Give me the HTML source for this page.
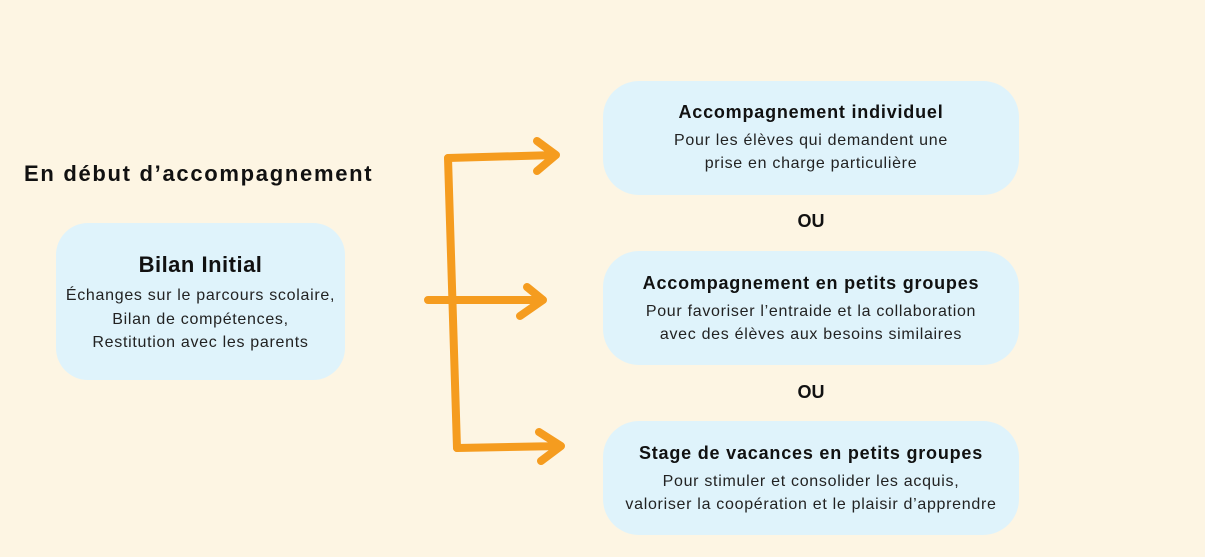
<!DOCTYPE html>
<html><head><meta charset="utf-8"><style>
body{margin:0;width:1205px;height:557px;background:#fdf5e3;position:relative;overflow:hidden;font-family:"Liberation Sans","DejaVu Sans",sans-serif;color:#111}
.box{position:absolute;background:#dff3fb;border-radius:36px;text-align:center}
.t{position:absolute;white-space:nowrap;text-align:center}
.b{font-weight:bold}
.s{font-size:16px;line-height:23px;color:#222;letter-spacing:0.7px}
.h{font-size:18px;line-height:22px;letter-spacing:0.8px}
</style></head><body>
<div class="t b" style="left:24px;top:161px;font-size:22px;letter-spacing:1.7px">En début d’accompagnement</div>
<div class="box" style="left:56px;top:223px;width:289px;height:157px;border-radius:32px"></div>
<div class="t" style="left:56px;top:252px;width:289px">
<div class="b" style="font-size:22px;line-height:26px;letter-spacing:0.5px">Bilan Initial</div>
<div class="s" style="line-height:23.5px;margin-top:6px">Échanges sur le parcours scolaire,<br>Bilan de compétences,<br>Restitution avec les parents</div></div>

<div class="box" style="left:603px;top:81px;width:416px;height:114px"></div>
<div class="t" style="left:603px;top:101px;width:416px">
<div class="b h">Accompagnement individuel</div>
<div class="s" style="margin-top:6px">Pour les élèves qui demandent une<br>prise en charge particulière</div></div>

<div class="t b" style="left:603px;top:211px;width:416px;font-size:18px">OU</div>

<div class="box" style="left:603px;top:251px;width:416px;height:114px"></div>
<div class="t" style="left:603px;top:272px;width:416px">
<div class="b h">Accompagnement en petits groupes</div>
<div class="s" style="margin-top:6px">Pour favoriser l’entraide et la collaboration<br>avec des élèves aux besoins similaires</div></div>

<div class="t b" style="left:603px;top:382px;width:416px;font-size:18px">OU</div>

<div class="box" style="left:603px;top:421px;width:416px;height:114px"></div>
<div class="t" style="left:603px;top:442px;width:416px">
<div class="b h">Stage de vacances en petits groupes</div>
<div class="s" style="margin-top:6px">Pour stimuler et consolider les acquis,<br>valoriser la coopération et le plaisir d’apprendre</div></div>

<svg width="1205" height="557" style="position:absolute;left:0;top:0" fill="none" stroke="#f59c1f" stroke-width="8" stroke-linecap="round" stroke-linejoin="round">
<path d="M448 158 Q452 300 457 448"/>
<path d="M448 158 L556 155 M537 141 L556 155 L537 171"/>
<path d="M428 300 L543 300 M527 287 L543 300 L520 316" />
<path d="M457 448 L561 446 M539 432 L561 446 L541 461"/>
</svg>
</body></html>
